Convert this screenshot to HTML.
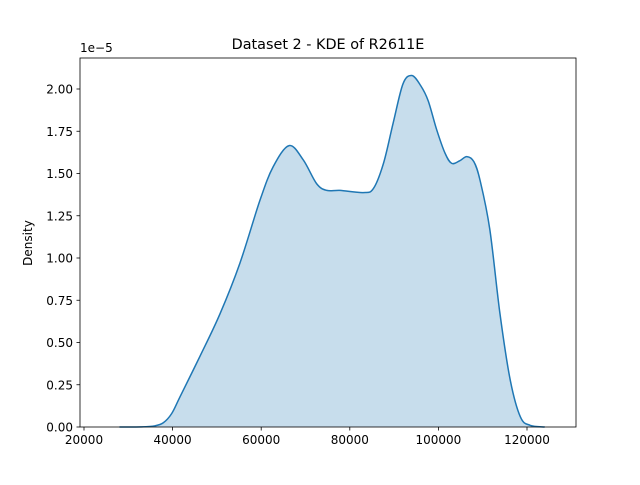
<!DOCTYPE html>
<html><head><meta charset="utf-8"><style>
body{margin:0;background:#fff}
svg text{font-family:"DejaVu Sans","Liberation Sans",sans-serif;fill:#000}
</style></head><body>
<svg width="640" height="480" viewBox="0 0 640 480">
<rect width="640" height="480" fill="#fff"/>
<g id="plot"></g>
<text x="328" y="49" font-size="14.4" text-anchor="middle">Dataset 2 - KDE of R2611E</text>
<text x="80" y="52" font-size="12">1e−5</text>
<text transform="translate(32,243) rotate(-90)" font-size="12" text-anchor="middle">Density</text>
</svg>
<script>
const xs=[28000,33000,36000,37900,39800,41700,46200,50700,55200,59700,62700,66300,69500,72500,74800,77800,83000,85300,87600,89800,92000,94000,96000,97700,99600,101500,103000,104800,106400,108000,109400,111600,113900,116200,118500,120700,124000];
const ys=[0,0.001,0.007,0.025,0.08,0.18,0.42,0.67,0.97,1.34,1.54,1.665,1.58,1.44,1.40,1.40,1.387,1.41,1.56,1.8,2.03,2.08,2.02,1.93,1.76,1.62,1.56,1.575,1.60,1.57,1.46,1.17,0.67,0.28,0.06,0.01,0];
const xTicks=[20000,40000,60000,80000,100000,120000];
const yTicks=[0,0.25,0.5,0.75,1.0,1.25,1.5,1.75,2.0];
const L=80,R=576,T=58,B=427;
const sx=v=>84+(v-20000)*443/100000;
const sy=v=>427-v*169;
const NS="http://www.w3.org/2000/svg";
const g=document.getElementById('plot');
function mk(t,a){const e=document.createElementNS(NS,t);for(const k in a)e.setAttribute(k,a[k]);g.appendChild(e);return e;}
const P=xs.map((x,i)=>[sx(x),sy(ys[i])]);
let d=`M${P[0][0]},${P[0][1]}`;
for(let i=0;i<P.length-1;i++){const p0=P[Math.max(0,i-1)],p1=P[i],p2=P[i+1],p3=P[Math.min(P.length-1,i+2)];
d+=` C${p1[0]+(p2[0]-p0[0])/6},${p1[1]+(p2[1]-p0[1])/6} ${p2[0]-(p3[0]-p1[0])/6},${p2[1]-(p3[1]-p1[1])/6} ${p2[0]},${p2[1]}`;}
const fill=mk('path',{d:d+` L${P[P.length-1][0]},${sy(0)} L${P[0][0]},${sy(0)} Z`,fill:'#1f77b4','fill-opacity':0.25,stroke:'none'});


const line=mk('path',{d:d,fill:'none',stroke:'#1f77b4','stroke-width':1.5});


const fr=mk('rect',{x:L,y:T,width:R-L,height:B-T,fill:'none',stroke:'#000','stroke-width':0.8});


xTicks.forEach(v=>{const x=sx(v);
const t=mk('line',{x1:x,x2:x,y1:B,y2:B+3.5,stroke:'#000','stroke-width':0.8});


const l=mk('text',{x:x,y:B+17,'font-size':12,'text-anchor':'middle'});l.textContent=v;

});
yTicks.forEach(v=>{const y=sy(v);
const t=mk('line',{x1:L-3.5,x2:L,y1:y,y2:y,stroke:'#000','stroke-width':0.8});


const l=mk('text',{x:L-7,y:y+4.5,'font-size':12,'text-anchor':'end'});l.textContent=v.toFixed(2);

});
</script>
</body></html>
